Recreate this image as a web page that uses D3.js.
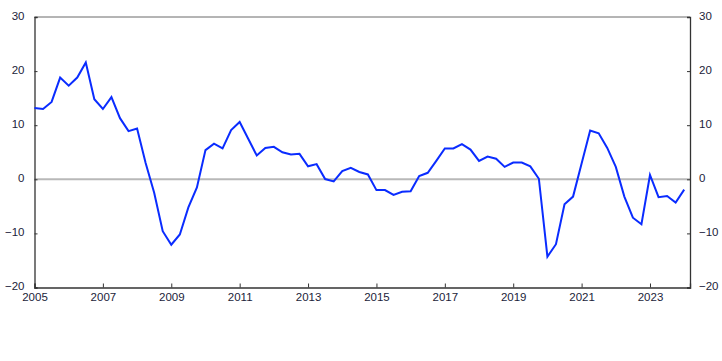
<!DOCTYPE html>
<html>
<head>
<meta charset="utf-8">
<script src="https://cdn.jsdelivr.net/npm/d3@7"></script>
<style>
  body { margin: 0; background: #fff; }
  svg { display: block; }
  text { font-family: "Liberation Sans", Arial, sans-serif; font-size: 11.5px; fill: #1b1d3a; }
</style>
</head>
<body>
<svg id="chart" width="722" height="361"></svg>
<script>
const startYear = 2005;
const values = [
  13.2, 13.0, 14.3, 18.8,
  17.3, 18.8, 21.6, 14.8,
  13.0, 15.2, 11.3, 8.9,
  9.4, 3.0, -2.5, -9.6,
  -12.1, -10.2, -5.2, -1.5,
  5.4, 6.6, 5.7, 9.1,
  10.6, 7.5, 4.4, 5.8,
  6.0, 5.0, 4.6, 4.7,
  2.4, 2.8, 0.05, -0.4,
  1.5, 2.1, 1.35, 0.9,
  -2.0, -2.0, -2.9, -2.3,
  -2.2, 0.6, 1.2, 3.4,
  5.7, 5.7, 6.5, 5.5,
  3.4, 4.2, 3.8, 2.3,
  3.1, 3.1, 2.4, 0.1,
  -14.3, -12.0, -4.6, -3.2,
  2.9, 9.0, 8.5, 5.8,
  2.3, -3.2, -7.1, -8.3,
  0.8, -3.3, -3.1, -4.3,
  -1.9
];
const xTicks = [2005, 2007, 2009, 2011, 2013, 2015, 2017, 2019, 2021, 2023];
const yTicks = [-20, -10, 0, 10, 20, 30];

const data = values.map((v, i) => ({ t: startYear + i / 4, v }));

const svg = d3.select("#chart");
const mLeft = 34.5, mRight = 690, mTop = 17, mBottom = 287.5;

const x = d3.scaleLinear().domain([2005, 2024.17]).range([mLeft, mRight]);
const y = d3.scaleLinear().domain([-20, 30]).range([mBottom, mTop]);

// frame top
svg.append("line").attr("x1", mLeft).attr("x2", mRight).attr("y1", mTop).attr("y2", mTop)
  .attr("stroke", "#6b6b6b").attr("stroke-width", 1);

// zero line
svg.append("line").attr("x1", mLeft).attr("x2", mRight).attr("y1", y(0)).attr("y2", y(0))
  .attr("stroke", "#b8b8b8").attr("stroke-width", 2);

// left axis
const yl = svg.append("g").attr("transform", `translate(${mLeft},0)`)
  .call(d3.axisLeft(y).tickValues(yTicks).tickSize(-3).tickPadding(10).tickFormat(d3.format("d")));
// right axis
const yr = svg.append("g").attr("transform", `translate(${mRight},0)`)
  .call(d3.axisRight(y).tickValues(yTicks).tickSize(-3).tickPadding(9).tickFormat(d3.format("d")));
// bottom axis
const xb = svg.append("g").attr("transform", `translate(0,${mBottom})`)
  .call(d3.axisBottom(x).tickValues(xTicks).tickSize(-4).tickPadding(7).tickFormat(d3.format("d")));

[yl, yr, xb].forEach(g => {
  g.select(".domain").attr("stroke", "#333").attr("stroke-width", 1.3);
  g.selectAll(".tick line").attr("stroke", "#333");
  g.selectAll("text").attr("font-family", "Liberation Sans, Arial, sans-serif").attr("font-size", "11.5px").attr("fill", "#1b1d3a");
});
yl.selectAll("text").attr("dy", "0.2em");
yr.selectAll("text").attr("dy", "0.2em");
xb.selectAll("text").attr("dy", "0.6em");

// line
svg.append("path").datum(data)
  .attr("fill", "none")
  .attr("stroke", "#0a2cff")
  .attr("stroke-width", 2)
  .attr("stroke-linejoin", "miter")
  .attr("d", d3.line().x(d => x(d.t)).y(d => y(d.v)));
</script>
</body>
</html>
